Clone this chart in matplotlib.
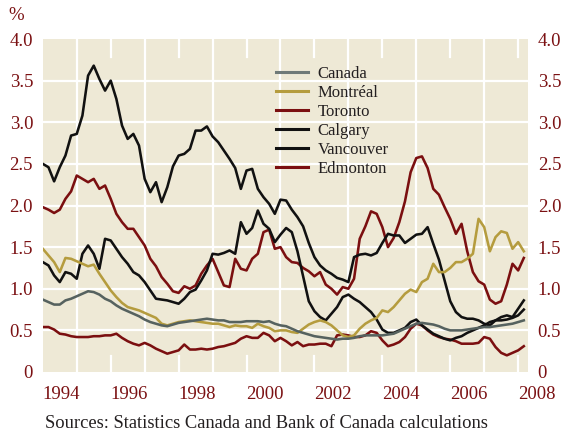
import numpy as np
import matplotlib
matplotlib.use("Agg")
import matplotlib.pyplot as plt

# ---- data (bimonthly readings, Jan 1994 onward) ----
months = np.arange(0, 172, 2)
years = 1994 + months / 12.0

canada = [0.87, 0.84, 0.81, 0.81, 0.86, 0.88, 0.91, 0.94, 0.97, 0.96, 0.93, 0.88, 0.85, 0.80, 0.76, 0.73,
          0.70, 0.67, 0.63, 0.60, 0.58, 0.56, 0.55, 0.57, 0.59, 0.60, 0.61, 0.62, 0.63, 0.64, 0.63, 0.62,
          0.62, 0.60, 0.60, 0.60, 0.61, 0.61, 0.61, 0.60, 0.61, 0.58, 0.56, 0.55, 0.52, 0.49, 0.47, 0.45,
          0.43, 0.42, 0.41, 0.40, 0.39, 0.40, 0.40, 0.41, 0.43, 0.44, 0.44, 0.44, 0.44, 0.45, 0.46, 0.49,
          0.52, 0.55, 0.58, 0.59, 0.58, 0.57, 0.55, 0.52, 0.50, 0.50, 0.50, 0.51, 0.52, 0.53, 0.54, 0.54,
          0.55, 0.56, 0.57, 0.58, 0.60, 0.62]
montreal = [1.48, 1.40, 1.32, 1.20, 1.37, 1.36, 1.33, 1.30, 1.27, 1.29, 1.18, 1.08, 0.98, 0.90, 0.83, 0.78,
            0.76, 0.74, 0.71, 0.68, 0.65, 0.58, 0.56, 0.58, 0.60, 0.61, 0.62, 0.61, 0.60, 0.59, 0.58, 0.58,
            0.56, 0.54, 0.56, 0.55, 0.55, 0.53, 0.58, 0.55, 0.53, 0.49, 0.50, 0.50, 0.48, 0.47, 0.52, 0.57,
            0.60, 0.62, 0.60, 0.56, 0.50, 0.44, 0.42, 0.44, 0.52, 0.58, 0.62, 0.65, 0.74, 0.72, 0.78, 0.86,
            0.94, 0.99, 0.96, 1.08, 1.12, 1.30, 1.20, 1.20, 1.25, 1.32, 1.32, 1.36, 1.42, 1.84, 1.74, 1.45,
            1.62, 1.69, 1.67, 1.48, 1.56, 1.45]
toronto = [1.98, 1.95, 1.91, 1.95, 2.08, 2.17, 2.36, 2.32, 2.28, 2.32, 2.20, 2.24, 2.08, 1.90, 1.80, 1.72,
           1.72, 1.62, 1.52, 1.36, 1.27, 1.14, 1.06, 0.97, 0.95, 1.03, 1.00, 1.04, 1.18, 1.28, 1.36, 1.20,
           1.04, 1.02, 1.36, 1.24, 1.22, 1.36, 1.42, 1.68, 1.71, 1.48, 1.50, 1.38, 1.32, 1.31, 1.25, 1.21,
           1.15, 1.20, 1.05, 1.00, 0.93, 1.02, 1.00, 1.12, 1.60, 1.75, 1.93, 1.90, 1.74, 1.50, 1.61, 1.80,
           2.05, 2.40, 2.57, 2.59, 2.45, 2.20, 2.13, 1.98, 1.84, 1.66, 1.78, 1.45, 1.20, 1.09, 1.05, 0.87,
           0.82, 0.85, 1.05, 1.30, 1.22, 1.37]
calgary = [1.32, 1.28, 1.16, 1.08, 1.20, 1.18, 1.12, 1.42, 1.52, 1.42, 1.24, 1.60, 1.58, 1.48, 1.38, 1.30,
           1.20, 1.16, 1.08, 0.98, 0.88, 0.87, 0.86, 0.84, 0.82, 0.88, 0.96, 0.99, 1.10, 1.22, 1.42, 1.41,
           1.43, 1.46, 1.42, 1.80, 1.66, 1.73, 1.94, 1.78, 1.72, 1.56, 1.65, 1.73, 1.68, 1.45, 1.15, 0.85,
           0.73, 0.66, 0.62, 0.70, 0.78, 0.90, 0.93, 0.88, 0.84, 0.78, 0.72, 0.63, 0.51, 0.47, 0.47, 0.50,
           0.53, 0.60, 0.63, 0.56, 0.51, 0.46, 0.43, 0.40, 0.38, 0.41, 0.43, 0.47, 0.50, 0.53, 0.56, 0.60,
           0.62, 0.62, 0.63, 0.65, 0.68, 0.75]
vancouver = [2.50, 2.46, 2.29, 2.46, 2.60, 2.84, 2.86, 3.08, 3.56, 3.68, 3.52, 3.38, 3.50, 3.28, 2.96, 2.80,
             2.86, 2.72, 2.32, 2.16, 2.28, 2.04, 2.22, 2.47, 2.60, 2.62, 2.68, 2.90, 2.90, 2.95, 2.83, 2.76,
             2.66, 2.56, 2.45, 2.20, 2.42, 2.44, 2.20, 2.10, 2.02, 1.90, 2.07, 2.06, 1.95, 1.86, 1.75, 1.55,
             1.38, 1.28, 1.22, 1.18, 1.13, 1.11, 1.08, 1.38, 1.41, 1.42, 1.40, 1.43, 1.55, 1.66, 1.64, 1.64,
             1.55, 1.60, 1.65, 1.66, 1.74, 1.54, 1.35, 1.10, 0.85, 0.72, 0.66, 0.64, 0.64, 0.62, 0.58, 0.56,
             0.62, 0.66, 0.68, 0.66, 0.76, 0.86]
edmonton = [0.54, 0.54, 0.51, 0.46, 0.45, 0.43, 0.42, 0.42, 0.42, 0.43, 0.43, 0.44, 0.44, 0.46, 0.41, 0.37,
            0.34, 0.32, 0.35, 0.32, 0.28, 0.25, 0.22, 0.24, 0.26, 0.33, 0.27, 0.27, 0.28, 0.27, 0.28, 0.30,
            0.31, 0.33, 0.35, 0.40, 0.43, 0.41, 0.41, 0.47, 0.44, 0.37, 0.41, 0.37, 0.32, 0.36, 0.31, 0.33,
            0.33, 0.34, 0.34, 0.31, 0.44, 0.45, 0.44, 0.42, 0.42, 0.44, 0.49, 0.47, 0.38, 0.31, 0.33, 0.36,
            0.42, 0.52, 0.58, 0.56, 0.50, 0.45, 0.42, 0.40, 0.39, 0.37, 0.34, 0.34, 0.34, 0.35, 0.42, 0.40,
            0.30, 0.23, 0.20, 0.23, 0.26, 0.31]

series_names = ["Canada", "Montréal", "Toronto", "Calgary", "Vancouver", "Edmonton"]
series_values = [canada, montreal, toronto, calgary, vancouver, edmonton]

x_tick_years = [1994, 1996, 1998, 2000, 2002, 2004, 2006, 2008]
y_ticks = [0, 0.5, 1.0, 1.5, 2.0, 2.5, 3.0, 3.5, 4.0]
y_tick_labels = ["0", "0.5", "1.0", "1.5", "2.0", "2.5", "3.0", "3.5", "4.0"]

# ---- styling ----
RED = "#7B1113"
colors = ["#56625F", "#B59C3E", "#7B0F10", "#111111", "#111111", "#7B0F10"]
zorders = [8, 6, 4, 5, 5, 3]
BG = "#EEE9D6"
FONT = "Liberation Serif"

plt.rcParams["font.family"] = [FONT, "DejaVu Serif"]

fig = plt.figure(figsize=(5.67, 4.34), dpi=100)
ax = fig.add_axes([42.8 / 567, 62 / 434, 485.2 / 567, 333 / 434])
ax.set_facecolor(BG)
ax.set_xlim(1994, 2008.29)
ax.set_ylim(0, 4.0)

for s in ax.spines.values():
    s.set_visible(False)

# grid
for yv in y_ticks[1:-1]:
    ax.axhline(yv, color="white", lw=1.6, zorder=1)
for yr in range(1995, 2008, 2):
    ax.axvline(yr, color="white", lw=1.6, zorder=1)
for yr in range(1996, 2009, 2):
    ax.axvline(yr, ymin=0, ymax=0.048, color="white", lw=1.6, zorder=1)
    ax.axvline(yr, ymin=0.946, ymax=1, color="white", lw=1.6, zorder=1)

for name, vals, c, z in zip(series_names, series_values, colors, zorders):
    ax.plot(years, vals, color=c, lw=1.85, label=name, zorder=z, solid_joinstyle="round")

ax.set_xticks(x_tick_years)
ax.set_xticklabels([str(y) for y in x_tick_years], ha="left")
ax.set_yticks(y_ticks)
ax.set_yticklabels(y_tick_labels)
ax.tick_params(axis="x", length=0, pad=10, labelsize=13.5, labelcolor=RED)
ax.tick_params(axis="y", length=0, labelsize=13.5, labelcolor=RED, pad=7,
               left=True, right=True, labelleft=True, labelright=True)

leg = ax.legend(loc="upper left", bbox_to_anchor=(0.4806, 0.919), frameon=False,
                borderpad=0, borderaxespad=0, handlelength=1.95, handletextpad=0.55,
                labelspacing=0.175, fontsize=12)
for t in leg.get_texts():
    t.set_color("#231F20")
legend_handle_colors = ["#6F7A78", "#B59C3E", "#7B0F10", "#111111", "#111111", "#7B0F10"]
for h, c in zip(leg.get_lines(), legend_handle_colors):
    h.set_color(c)
    h.set_linewidth(2.2)

fig.text(16 / 567, 1 - 15 / 434, "%", color=RED, fontsize=13.5, ha="center", va="center")
fig.text(45 / 567, 1 - 423 / 434, "Sources: Statistics Canada and Bank of Canada calculations",
         color="#231F20", fontsize=13.3, ha="left", va="center")

fig.savefig("out.png", dpi=100)
